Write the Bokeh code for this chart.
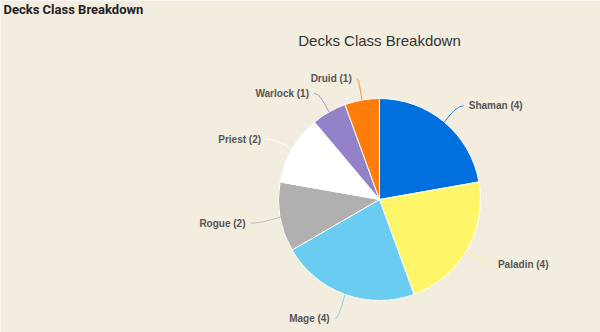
import numpy as np
from bokeh.plotting import figure
from bokeh.models import Range1d, ColumnDataSource
from bokeh.core.properties import value
from bokeh.embed import file_html
from bokeh.resources import INLINE

# ---- data ----
classes = ["Shaman", "Paladin", "Mage", "Rogue", "Priest", "Warlock", "Druid"]
counts = [4, 4, 4, 2, 2, 1, 1]
colors = ["#0070DE", "#FFF569", "#69CCF0", "#B0B0B0", "#FFFFFF", "#9482C9", "#FF7D0A"]
page_title = "Decks Class Breakdown"
chart_title = "Decks Class Breakdown"

# ---- layout ----
W, H = 600, 332
BG = "#F3EDDF"
cx, cy = 379, H - 199
r = 101

vals = np.array(counts, dtype=float)
frac = vals / vals.sum()
cum_end = np.cumsum(frac) * 2 * np.pi
cum_start = cum_end - frac * 2 * np.pi
mid = (cum_start + cum_end) / 2

src = ColumnDataSource(dict(
    start=np.pi / 2 - cum_start,
    end=np.pi / 2 - cum_end,
    color=colors,
))

p = figure(width=W, height=H, output_backend="svg", toolbar_location=None,
           x_range=Range1d(0, W), y_range=Range1d(0, H), min_border=0)
p.axis.visible = False
p.grid.visible = False
p.outline_line_color = None
p.background_fill_color = BG
p.border_fill_color = BG

p.wedge(x=cx, y=cy, radius=r, start_angle="start", end_angle="end", direction="clock",
        fill_color="color", line_color="white", line_width=1, source=src)

s = np.sin(mid)
c = np.cos(mid)
side = np.sign(s)
ex = cx + r * s
ey = cy + r * c
lx = cx + (r + 30) * s
ly = cy + (r + 24) * c - 2
ctrlx = cx + (r + 18) * s
ctrly = ly

csrc = ColumnDataSource(dict(x0=ex, y0=ey, x1=lx, y1=ly, cx=ctrlx, cy=ctrly, color=colors))
p.quadratic(x0="x0", y0="y0", x1="x1", y1="y1", cx="cx", cy="cy",
            line_color="color", line_width=1, line_alpha=0.8, source=csrc)

labels = [f"{k} ({n})" for k, n in zip(classes, counts)]
tsrc = ColumnDataSource(dict(x=lx + 5 * side, y=ly, text=labels,
                             align=["left" if v > 0 else "right" for v in side]))
p.text(x="x", y="y", text="text", text_align="align", text_baseline="middle",
       text_font=value("Liberation Sans"), text_font_style="bold", text_font_size="10px",
       text_color="#555555", source=tsrc)

p.text(x=[379], y=[H - 40], text=[chart_title], text_align="center", text_baseline="middle",
       text_font=value("Liberation Sans"), text_font_size="15px", text_color="#333333")

p.text(x=[3], y=[H - 9], text=[page_title], text_align="left", text_baseline="middle",
       text_font=value("Roboto"), text_font_style="bold", text_font_size="13px",
       text_color="#222222")

open("out.html", "w").write(file_html(p, INLINE))
